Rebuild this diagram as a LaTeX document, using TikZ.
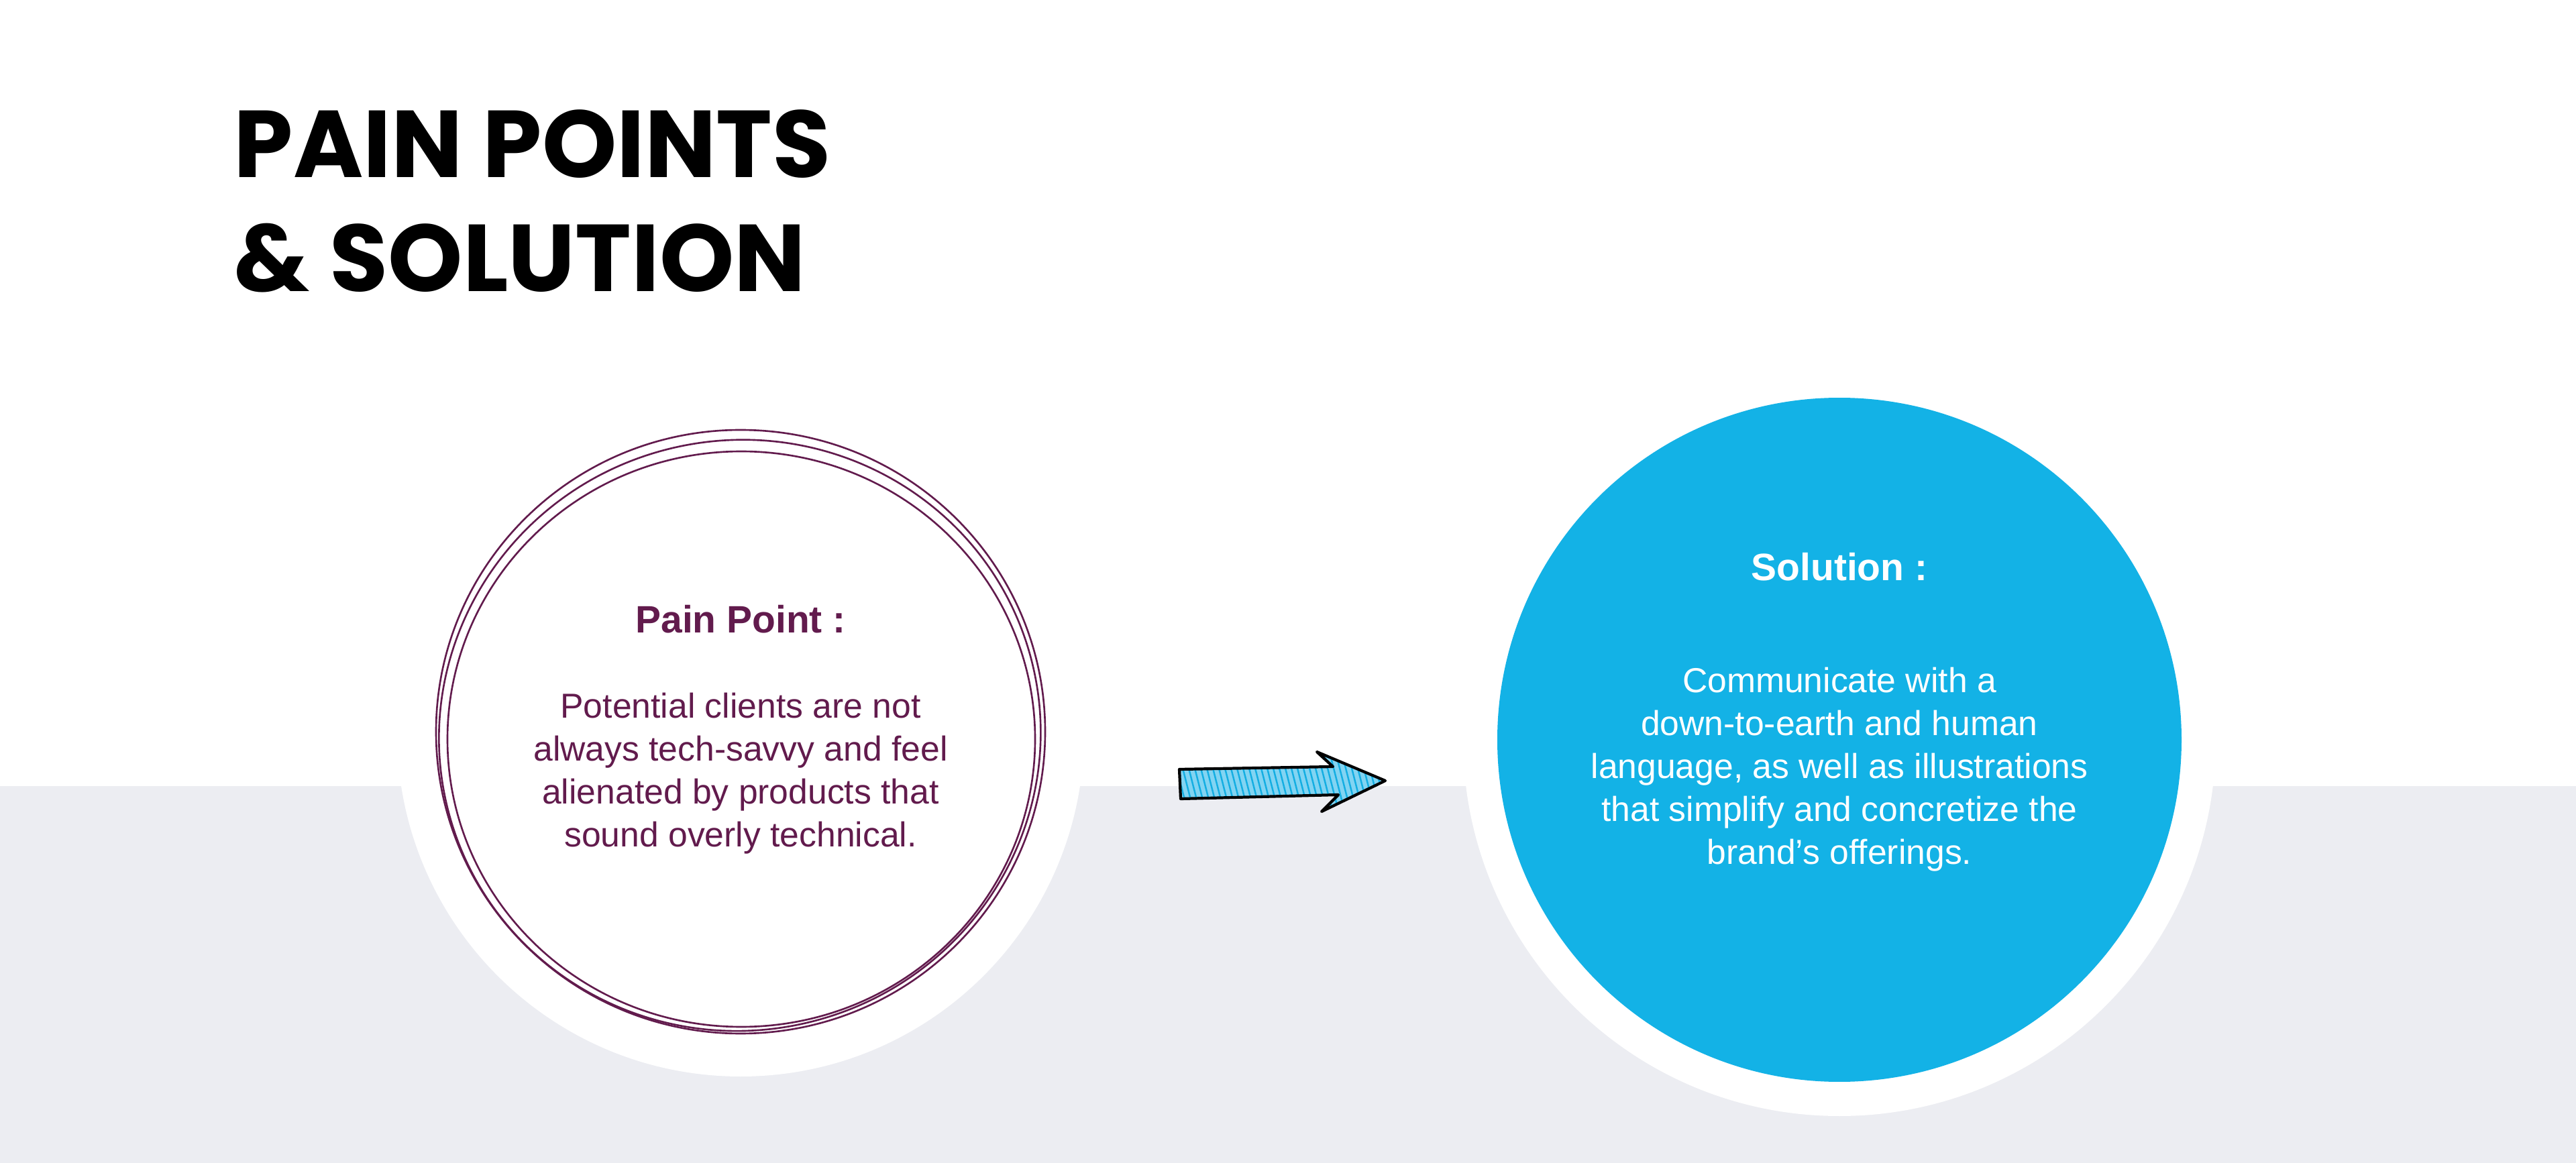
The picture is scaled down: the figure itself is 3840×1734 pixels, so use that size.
\documentclass[tikz,border=0pt]{standalone}
\usepackage{fontspec}
\setmainfont{Liberation Sans}
\newfontfamily\titlefont{Poppins}
\usepackage{xcolor}
\usepackage{tikz}
\usetikzlibrary{calc, positioning}

\definecolor{painpurple}{RGB}{98,27,77}
\definecolor{solblue}{RGB}{19,178,230}
\definecolor{bandgray}{RGB}{236,237,242}
\definecolor{arrowfill}{RGB}{130,212,242}
\definecolor{arrowhatch}{RGB}{20,174,226}

\newcommand{\arrowoutline}{(1758,1147) -- (1987,1143) -- (1963,1121) -- (2065,1164) -- (1970,1210) -- (1995,1185) -- (1760,1191) -- cycle}

\begin{document}
\begin{tikzpicture}[x=0.1mm, y=-0.1mm,
    titletext/.style={align=left, inner sep=0pt, font=\titlefont\bfseries\fontsize{40.3}{48.5}\selectfont},
    headtext/.style={inner sep=0pt, anchor=base, font=\bfseries\fontsize{16.2}{20}\selectfont},
    bodytext/.style={align=center, inner sep=0pt, anchor=north, font=\fontsize{14.7}{18.2}\selectfont},
    scribble/.style={draw=painpurple, line width=0.75pt},
    solcircle/.style={circle, fill=solblue, minimum size=102mm, inner sep=0pt}]
        \useasboundingbox (0,0) rectangle (3840,1734);
        \fill[white] (0,0) rectangle (3840,1734);
        \fill[bandgray] (0,1172) rectangle (3840,1734);
        % title
        \node[titletext, anchor=north west] (title) at (348,163) {PAIN POINTS\\\& SOLUTION};
        % pain point circle
        \node[circle, minimum size=90.4mm, inner sep=0pt] (pain) at (1104,1093) {};
        \fill[white] (pain.center) circle[radius=512];
        \draw[scribble] ($(pain.center)+(0,-2)$) ellipse[x radius=454, y radius=450];
        \draw[scribble] ($(pain.center)+(1,9)$) ellipse[x radius=438, y radius=429];
        \draw[scribble, rotate around={15:(pain.center)}] ($(pain.center)+(-2,3)$) ellipse[x radius=449, y radius=440];
        \node[headtext, text=painpurple] (painhead) at (1104,944) {Pain Point :};
        \node[bodytext, text=painpurple] (painbody) at (1104,1032) {Potential clients are not\\always tech-savvy and feel\\alienated by products that\\sound overly technical.};
        % solution circle
        \fill[white] (2742,1103) circle[radius=561];
        \node[solcircle] (sol) at (2742,1103) {};
        \node[headtext, text=white] (solhead) at (2742,866) {Solution :};
        \node[bodytext, text=white] (solbody) at (2742,994) {Communicate with a\\down-to-earth and human\\language, as well as illustrations\\that simplify and concretize the\\brand’s offerings.};
        % sketched arrow
        \fill[arrowfill] \arrowoutline;
        \begin{scope}
            \clip \arrowoutline;
            \foreach \i in {1700,1709,...,2080} {\draw[arrowhatch, line width=0.7pt] (\i,1110) -- ++(28,110);}
        \end{scope}
        \draw[black, line width=1.2pt, line join=round] \arrowoutline;
\end{tikzpicture}
\end{document}
